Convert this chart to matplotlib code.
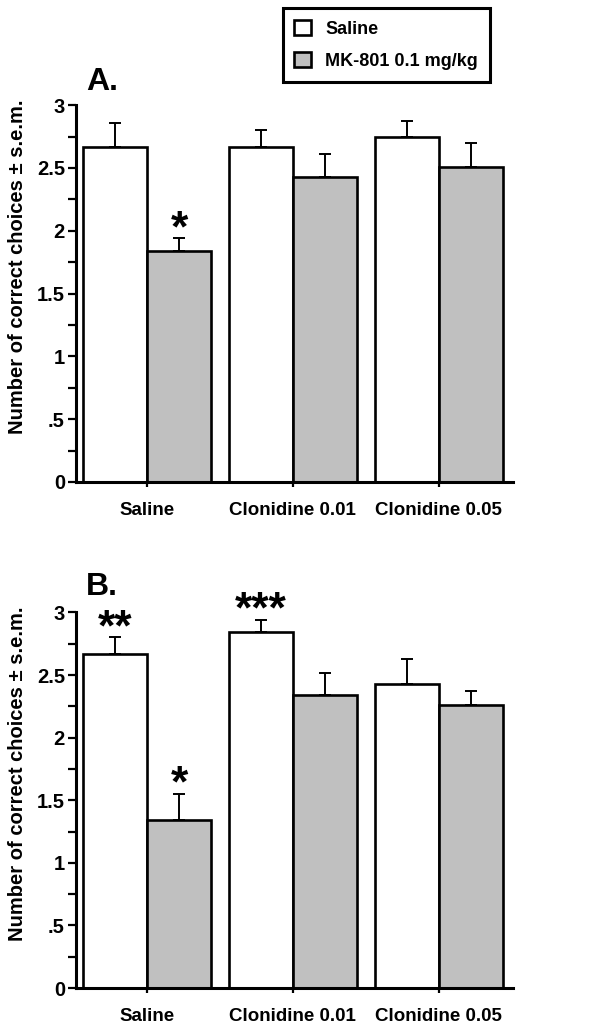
import numpy as np
import matplotlib
matplotlib.use('Agg')
import matplotlib.pyplot as plt
from matplotlib.patches import Patch

plt.rcParams['font.family'] = ['Liberation Sans', 'DejaVu Sans']
plt.rcParams['font.weight'] = 'bold'

# данные
groups = ['Saline', 'Clonidine 0.01', 'Clonidine 0.05']
series = ['Saline', 'MK-801 0.1 mg/kg']

a_saline = [2.67, 2.67, 2.75]
a_saline_err = [0.19, 0.13, 0.12]
a_mk = [1.84, 2.43, 2.51]
a_mk_err = [0.10, 0.18, 0.19]
a_stars = {('mk', 0): '*'}

b_saline = [2.67, 2.84, 2.43]
b_saline_err = [0.13, 0.10, 0.20]
b_mk = [1.34, 2.34, 2.26]
b_mk_err = [0.21, 0.18, 0.11]
b_stars = {('sal', 0): '**', ('sal', 1): '***', ('mk', 0): '*'}

yticks = [0, 0.5, 1, 1.5, 2, 2.5, 3]
ytick_labels = ['0', '.5', '1', '1.5', '2', '2.5', '3']
ylabel = 'Number of correct choices \u00b1 s.e.m.'

gray = '#c0c0c0'
w = 0.44


def draw_panel(ax, sal, sal_err, mk, mk_err, stars):
    x = np.arange(len(groups))
    ax.bar(x - w / 2, sal, w, color='white', edgecolor='black', linewidth=1.9, zorder=2)
    ax.bar(x + w / 2, mk, w, color=gray, edgecolor='black', linewidth=1.9, zorder=2)
    ax.errorbar(x - w / 2, sal, yerr=[np.zeros(3), sal_err], fmt='none', ecolor='black',
                elinewidth=1.4, capsize=4.5, capthick=1.4, zorder=3, clip_on=False)
    ax.errorbar(x + w / 2, mk, yerr=[np.zeros(3), mk_err], fmt='none', ecolor='black',
                elinewidth=1.4, capsize=4.5, capthick=1.4, zorder=3, clip_on=False)
    for (s, i), txt in stars.items():
        if s == 'sal':
            xx, top = x[i] - w / 2, sal[i] + sal_err[i]
        else:
            xx, top = x[i] + w / 2, mk[i] + mk_err[i]
        ax.annotate(txt, xy=(xx, top), xytext=(0, -2), textcoords='offset points',
                    ha='center', va='baseline', fontsize=32, fontweight='bold')

    ax.set_xlim(-0.486, 2.507)
    ax.set_ylim(0, 3)
    ax.set_xticks(x)
    ax.set_xticklabels(groups, fontsize=13.5, fontweight='bold')
    ax.set_yticks(yticks)
    ax.set_yticklabels(ytick_labels, fontsize=14.5, fontweight='bold')
    ax.set_yticks(np.arange(0.25, 3, 0.5), minor=True)
    ax.tick_params(axis='y', which='both', direction='out', length=6, width=1.6, pad=2)
    ax.tick_params(axis='x', direction='out', length=3.5, width=1.6, pad=11)
    for sp in ['top', 'right']:
        ax.spines[sp].set_visible(False)
    for sp in ['left', 'bottom']:
        ax.spines[sp].set_linewidth(2.2)
    ax.set_ylabel(ylabel, fontsize=14.5, fontweight='bold')
    ax.yaxis.set_label_coords(-0.113, 0.57)


fig = plt.figure(figsize=(5.99, 10.31), dpi=100)
ax_a = fig.add_axes([0.127, 0.5325, 0.729, 0.3655])
ax_b = fig.add_axes([0.127, 0.0417, 0.729, 0.3643])

draw_panel(ax_a, a_saline, a_saline_err, a_mk, a_mk_err, a_stars)
draw_panel(ax_b, b_saline, b_saline_err, b_mk, b_mk_err, b_stars)

fig.text(0.1436, 0.9127, 'A.', fontsize=23, fontweight='bold', va='baseline')
fig.text(0.1436, 0.4229, 'B.', fontsize=23, fontweight='bold', va='baseline')

handles = [Patch(facecolor='white', edgecolor='black', linewidth=1.9),
           Patch(facecolor=gray, edgecolor='black', linewidth=1.9)]
leg = fig.legend(handles, series, loc='upper left', bbox_to_anchor=(0.472, 0.992),
                 borderaxespad=0, fontsize=13, handlelength=0.9, handleheight=0.9,
                 handletextpad=0.8, labelspacing=0.8, borderpad=0.65,
                 fancybox=False, edgecolor='black', framealpha=1)
leg.get_frame().set_linewidth(2.2)
for t in leg.get_texts():
    t.set_fontweight('bold')

fig.savefig('out.png', dpi=100)
